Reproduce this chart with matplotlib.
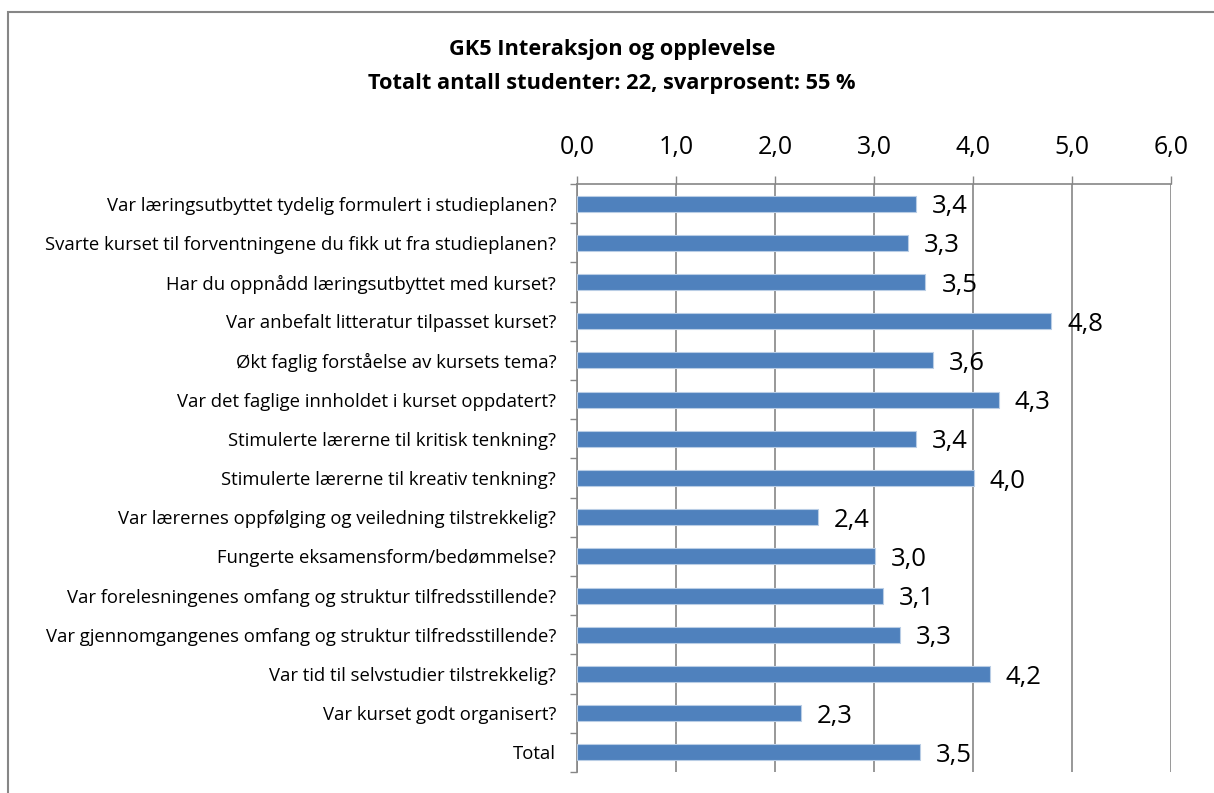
import matplotlib.pyplot as plt
import matplotlib.patches as mpatches
from matplotlib.ticker import FixedLocator

# ----------------(Data)----------------
questions = [
    "Var læringsutbyttet tydelig formulert i studieplanen?",
    "Svarte kurset til forventningene du fikk ut fra studieplanen?",
    "Har du oppnådd læringsutbyttet med kurset?",
    "Var anbefalt litteratur tilpasset kurset?",
    "Økt faglig forståelse av kursets tema?",
    "Var det faglige innholdet i kurset oppdatert?",
    "Stimulerte lærerne til kritisk tenkning?",
    "Stimulerte lærerne til kreativ tenkning?",
    "Var lærernes oppfølging og veiledning tilstrekkelig?",
    "Fungerte eksamensform/bedømmelse?",
    "Var forelesningenes omfang og struktur tilfredsstillende?",
    "Var gjennomgangenes omfang og struktur tilfredsstillende?",
    "Var tid til selvstudier tilstrekkelig?",
    "Var kurset godt organisert?",
    "Total",
]
scores = [3.42, 3.34, 3.52, 4.79, 3.60, 4.26, 3.42, 4.01, 2.43, 3.01, 3.09, 3.26, 4.17, 2.26, 3.46]
xticks = [0, 1, 2, 3, 4, 5, 6]
title1 = "GK5 Interaksjon og opplevelse"
title2 = "Totalt antall studenter: 22, svarprosent: 55 %"

plt.rcParams['font.family'] = ['Open Sans', 'DejaVu Sans']

bar_col = '#4F81BD'
grid_col = '#868686'

W, H = 1214, 793
fig = plt.figure(figsize=(W / 100, H / 100), dpi=100)
ax = fig.add_axes([577 / W, 1 - 772 / H, (1171 - 577) / W, (772 - 184) / H])

ypos = list(range(len(questions)))
ax.barh(ypos, scores, height=0.41, color=bar_col, edgecolor='#B9CDE5', linewidth=0.8, zorder=3)

# value labels next to the bars
for y, v in zip(ypos, scores):
    ax.text(v + 0.16, y + 0.08, f"{v:.1f}".replace('.', ','), va='center', ha='left',
            fontsize=18.5, color='black', zorder=4)

ax.set_xlim(0, 6)
ax.set_ylim(len(questions) - 0.5, -0.5)
ax.xaxis.tick_top()
ax.set_xticks(xticks)
ax.set_xticklabels([f"{t:.1f}".replace('.', ',') for t in xticks], fontsize=18)
ax.tick_params(axis='x', length=6, width=1, color=grid_col, pad=11)
ax.grid(axis='x', color=grid_col, linewidth=1.2, zorder=0)

ax.set_yticks(ypos)
ax.set_yticklabels(questions, fontsize=13.3)
ax.yaxis.set_minor_locator(FixedLocator([i - 0.5 for i in range(len(questions) + 1)]))
ax.tick_params(axis='y', which='major', length=0, pad=15)
ax.tick_params(axis='y', which='minor', length=5, width=1, color=grid_col)

for s in ['right', 'bottom']:
    ax.spines[s].set_visible(False)
for s in ['left', 'top']:
    ax.spines[s].set_color(grid_col)
    ax.spines[s].set_linewidth(1.2)

fig.text(612 / W, 1 - 49 / H, title1, ha='center', va='center', fontsize=15.7, fontweight='bold')
fig.text(612 / W, 1 - 83 / H, title2, ha='center', va='center', fontsize=15.7, fontweight='bold')

# outer chart border (goes past the picture on the right and bottom)
fig.patches.append(mpatches.Rectangle((8 / W, -0.05), 1.2, 1 - 12 / H + 0.05,
                                      transform=fig.transFigure, fill=False,
                                      edgecolor='#868686', linewidth=1.5))

plt.savefig('out.png', dpi=100)
